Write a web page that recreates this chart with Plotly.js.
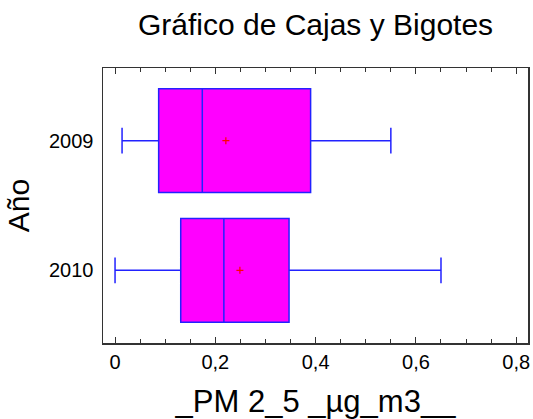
<!DOCTYPE html>
<html>
<head>
<meta charset="utf-8">
<script src="https://cdn.plot.ly/plotly-3.0.1.min.js"></script>
<style>html,body{margin:0;padding:0;background:#fff;}#chart{width:533px;height:419px;}</style>
</head>
<body>
<div id="chart"></div>
<script>
// Data
const years = ['2009', '2010'];
const q1 = [0.087, 0.131];
const medians = [0.174, 0.217];
const q3 = [0.390, 0.347];
const lowerWhisker = [0.014, 0.0];
const upperWhisker = [0.550, 0.650];
const means = [0.221, 0.249];
const xTickVals = [0, 0.2, 0.4, 0.6, 0.8];

const FONT = 'Liberation Sans, Arial, sans-serif';

const boxTrace = {
  type: 'box',
  orientation: 'h',
  y: years,
  q1: q1,
  median: medians,
  q3: q3,
  lowerfence: lowerWhisker,
  upperfence: upperWhisker,
  fillcolor: '#FF00FF',
  line: {color: '#2222FF', width: 1.5},
  width: 0.8,
  whiskerwidth: 0.25,
  boxpoints: false,
  hoverinfo: 'skip',
  showlegend: false
};

const meanTrace = {
  type: 'scatter',
  mode: 'markers',
  x: means,
  y: years,
  marker: {symbol: 'cross-thin', size: 5, color: '#FF0000', line: {color: '#FF0000', width: 1.2}},
  hoverinfo: 'skip',
  showlegend: false
};

const layout = {
  width: 533,
  height: 419,
  margin: {l: 103, r: 5, t: 68, b: 76},
  paper_bgcolor: '#FFFFFF',
  plot_bgcolor: '#FFFFFF',
  separators: ',.',
  font: {family: FONT, color: '#000000'},
  title: {
    text: 'Gráfico de Cajas y Bigotes',
    font: {family: FONT, size: 30, color: '#000000'},
    x: 0.592, xanchor: 'center',
    y: 0.942, yref: 'container', yanchor: 'middle'
  },
  xaxis: {
    range: [-0.024, 0.8235],
    tickvals: xTickVals,
    ticks: 'inside',
    ticklen: 6,
    tickwidth: 1,
    tickcolor: '#333333',
    minor: {dtick: 0.05, tick0: 0, ticks: 'inside', ticklen: 4, tickwidth: 1, tickcolor: '#333333'},
    showline: true,
    linecolor: '#333333',
    linewidth: 1.5,
    mirror: 'allticks',
    showgrid: false,
    zeroline: false,
    tickfont: {family: FONT, size: 20, color: '#000000'},
    title: {text: '_PM 2_5 _µg_m3__', font: {family: FONT, size: 31, color: '#000000'}, standoff: 20}
  },
  yaxis: {
    type: 'category',
    categoryorder: 'array',
    categoryarray: ['2010', '2009'],
    range: [-0.56, 1.56],
    ticks: '',
    showline: true,
    linecolor: '#333333',
    linewidth: 1.5,
    mirror: true,
    showgrid: false,
    zeroline: false,
    ticklabelstandoff: 4,
    tickfont: {family: FONT, size: 20, color: '#000000'},
    title: {text: 'Año', font: {family: FONT, size: 30, color: '#000000'}, standoff: 10}
  }
};

Plotly.newPlot('chart', [boxTrace, meanTrace], layout, {staticPlot: true, displayModeBar: false});
</script>
</body>
</html>
